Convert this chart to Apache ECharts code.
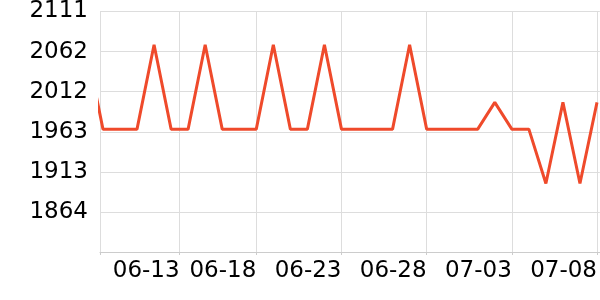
<!DOCTYPE html>
<html><head><meta charset="utf-8">
<script src="https://cdn.jsdelivr.net/npm/echarts@6/dist/echarts.min.js"></script>
<style>html,body{margin:0;padding:0;background:#fff}#c{width:600px;height:300px}</style>
</head><body><div id="c"></div>
<script>
const dates = ['2024-06-08','2024-06-09','2024-06-10','2024-06-11','2024-06-12','2024-06-13','2024-06-14','2024-06-15','2024-06-16','2024-06-17','2024-06-18','2024-06-19','2024-06-20','2024-06-21','2024-06-22','2024-06-23','2024-06-24','2024-06-25','2024-06-26','2024-06-27','2024-06-28','2024-06-29','2024-06-30','2024-07-01','2024-07-02','2024-07-03','2024-07-04','2024-07-05','2024-07-06','2024-07-07','2024-07-08'];
const values = [2070,1966,1966,1966,2070,1966,1966,2070,1966,1966,1966,2070,1966,1966,2070,1966,1966,1966,1966,2070,1966,1966,1966,1966,1999,1966,1966,1899,1999,1899,1999];
const xTickTimes = ['2024-06-13T12:00','2024-06-18T00:00','2024-06-23T00:00','2024-06-28T00:00','2024-07-03T00:00','2024-07-08T00:00'];
const xTickLabels = ['06-13','06-18','06-23','06-28','07-03','07-08'];
const yTickLabels = ['1864','1913','1963','2012','2062','2111'];
const xMin = '2024-06-08T19:50';
const xMax = '2024-07-08T04:00';

const ts = s => new Date(s.length === 10 ? s + 'T00:00' : s).getTime();
const tickVals = xTickTimes.map(ts);
const minVal = ts(xMin);

const chart = echarts.init(document.getElementById('c'), null, {renderer:'canvas'});
chart.setOption({
  animation:false,
  grid:{left:100,right:0,top:10,bottom:48,containLabel:false},
  xAxis:{
    type:'value', min:minVal, max:ts(xMax), scale:true,
    axisLine:{show:true,lineStyle:{color:'#ccc'}},
    axisTick:{show:true,length:3,lineStyle:{color:'#ccc'},customValues:[minVal].concat(tickVals)},
    splitLine:{show:true,lineStyle:{color:'#ddd'}},
    axisLabel:{color:'#000',fontSize:23,fontFamily:'DejaVu Sans',align:'right',margin:8,
      customValues:tickVals,
      formatter:v=>{const i=tickVals.indexOf(v);return i>=0?xTickLabels[i]:'';}}
  },
  yAxis:{
    type:'value', min:1814.6, max:2111, interval:49.4,
    axisLine:{show:false}, axisTick:{show:false},
    splitLine:{show:true,lineStyle:{color:'#ddd'}},
    axisLabel:{color:'#000',fontSize:23,fontFamily:'DejaVu Sans',margin:12,showMinLabel:false,
      formatter:v=>{const r=String(Math.round(v));return yTickLabels.indexOf(r)>=0?r:'';}}
  },
  series:[{type:'line',data:dates.map((d,i)=>[ts(d),values[i]]),showSymbol:false,
    lineStyle:{color:'#ef4a2b',width:3},itemStyle:{color:'#ef4a2b'},clip:true}]
});
</script></body></html>
